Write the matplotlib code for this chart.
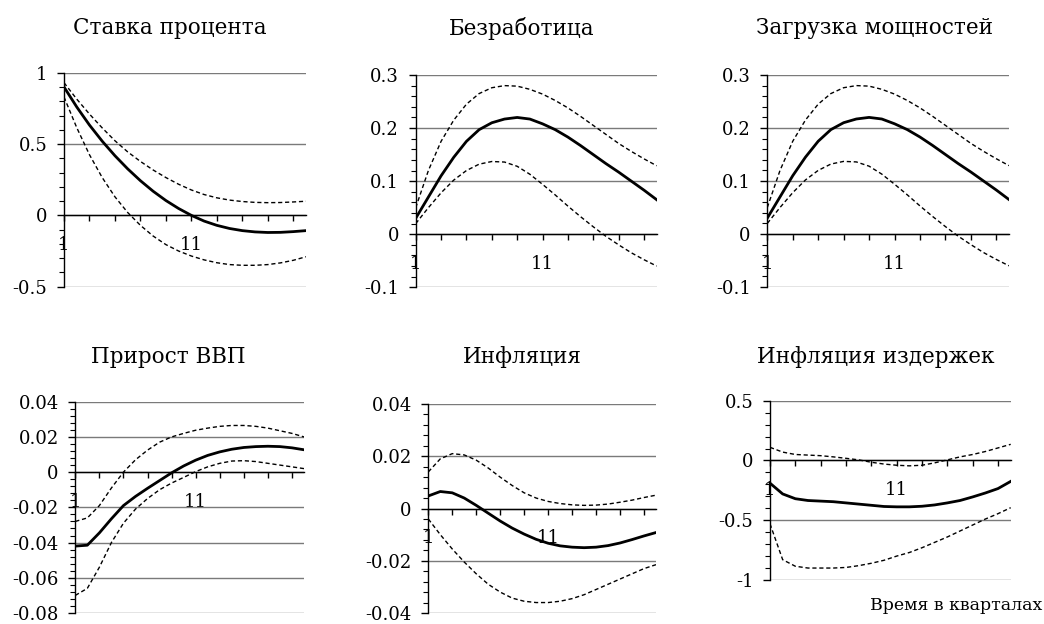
import numpy as np
import matplotlib
matplotlib.use('Agg')
import matplotlib.pyplot as plt
from matplotlib.ticker import MultipleLocator, FuncFormatter

plt.rcParams['font.family'] = ['DejaVu Serif']
plt.rcParams['axes.unicode_minus'] = False

# кварталы
quarters = np.arange(1, 21)

# Ставка процента
rate_mid = [0.90, 0.76, 0.633, 0.52, 0.418, 0.326, 0.243, 0.169, 0.104, 0.048,
            0.0, -0.04, -0.07, -0.092, -0.107, -0.116, -0.12, -0.119, -0.114, -0.107]
rate_hi = [0.93, 0.815, 0.71, 0.613, 0.523, 0.445, 0.378, 0.318, 0.265, 0.218,
           0.178, 0.146, 0.123, 0.107, 0.097, 0.091, 0.089, 0.09, 0.094, 0.099]
rate_lo = [0.83, 0.615, 0.425, 0.265, 0.13, 0.02, -0.07, -0.145, -0.205, -0.25,
           -0.285, -0.312, -0.332, -0.345, -0.35, -0.35, -0.345, -0.333, -0.315, -0.29]

# Безработица
unemp_mid = [0.03, 0.07, 0.11, 0.145, 0.175, 0.197, 0.21, 0.217, 0.22, 0.217,
             0.208, 0.197, 0.183, 0.167, 0.15, 0.133, 0.117, 0.10, 0.083, 0.065]
unemp_hi = [0.05, 0.12, 0.175, 0.215, 0.245, 0.265, 0.276, 0.28, 0.279, 0.273,
            0.264, 0.252, 0.238, 0.222, 0.205, 0.188, 0.171, 0.156, 0.142, 0.129]
unemp_lo = [0.02, 0.05, 0.078, 0.102, 0.12, 0.132, 0.137, 0.136, 0.128, 0.113,
            0.094, 0.074, 0.053, 0.033, 0.014, -0.004, -0.02, -0.035, -0.048, -0.06]

# Загрузка мощностей
cap_mid = [0.03, 0.07, 0.11, 0.145, 0.175, 0.197, 0.21, 0.217, 0.22, 0.217,
           0.208, 0.197, 0.183, 0.167, 0.15, 0.133, 0.117, 0.10, 0.083, 0.065]
cap_hi = [0.05, 0.12, 0.175, 0.215, 0.245, 0.265, 0.276, 0.28, 0.279, 0.273,
          0.264, 0.252, 0.238, 0.222, 0.205, 0.188, 0.171, 0.156, 0.142, 0.129]
cap_lo = [0.02, 0.05, 0.078, 0.102, 0.12, 0.132, 0.137, 0.136, 0.128, 0.113,
          0.094, 0.074, 0.053, 0.033, 0.014, -0.004, -0.02, -0.035, -0.048, -0.06]

# Прирост ВВП
gdp_mid = [-0.042, -0.0415, -0.0345, -0.0265, -0.019, -0.0138, -0.0092, -0.0048, -0.0004, 0.0035,
           0.0068, 0.0095, 0.0115, 0.013, 0.014, 0.0145, 0.0147, 0.0145, 0.0138, 0.0127]
gdp_hi = [-0.028, -0.026, -0.019, -0.009, 0.0, 0.007, 0.0125, 0.017, 0.020, 0.022,
          0.0238, 0.025, 0.026, 0.0265, 0.0265, 0.026, 0.025, 0.0235, 0.022, 0.020]
gdp_lo = [-0.07, -0.066, -0.054, -0.04, -0.029, -0.021, -0.015, -0.010, -0.0062, -0.003,
          0.0003, 0.003, 0.005, 0.0063, 0.0065, 0.006, 0.005, 0.004, 0.003, 0.002]

# Инфляция
infl_mid = [0.0048, 0.0065, 0.006, 0.004, 0.0012, -0.0018, -0.0048, -0.0075, -0.0098, -0.0118,
            -0.0133, -0.0143, -0.0148, -0.015, -0.0148, -0.0142, -0.0132, -0.0119, -0.0105, -0.0092]
infl_hi = [0.014, 0.019, 0.021, 0.0205, 0.0185, 0.0155, 0.012, 0.0088, 0.006, 0.004,
           0.0027, 0.0019, 0.0014, 0.0012, 0.0013, 0.0017, 0.0024, 0.0032, 0.0042, 0.0051]
infl_lo = [-0.004, -0.01, -0.0155, -0.0205, -0.025, -0.029, -0.032, -0.0343, -0.0355, -0.036,
           -0.036, -0.0355, -0.0345, -0.033, -0.031, -0.029, -0.027, -0.025, -0.023, -0.0215]

# Инфляция издержек
cost_mid = [-0.19, -0.28, -0.32, -0.335, -0.34, -0.345, -0.355, -0.365, -0.375, -0.385,
            -0.388, -0.388, -0.383, -0.372, -0.355, -0.335, -0.305, -0.272, -0.235, -0.175]
cost_hi = [0.11, 0.07, 0.05, 0.045, 0.04, 0.03, 0.018, 0.005, -0.015, -0.03,
           -0.04, -0.045, -0.04, -0.02, 0.005, 0.03, 0.05, 0.075, 0.105, 0.135]
cost_lo = [-0.53, -0.83, -0.885, -0.9, -0.9, -0.9, -0.895, -0.88, -0.86, -0.835,
           -0.8, -0.77, -0.73, -0.685, -0.64, -0.59, -0.54, -0.49, -0.445, -0.395]

W, H = 1044, 624

# (название, данные, ymin, ymax, шаг, мелкий шаг, рамка в пикселях, центр заголовка)
panels = [
    ('Ставка процента', (rate_mid, rate_hi, rate_lo), -0.5, 1.0, 0.5, 0.1,
     (64, 72.7, 306, 286.7), (170, 28)),
    ('Безработица', (unemp_mid, unemp_hi, unemp_lo), -0.1, 0.3, 0.1, 0.02,
     (415.7, 75, 656.7, 287.3), (522, 28)),
    ('Загрузка мощностей', (cap_mid, cap_hi, cap_lo), -0.1, 0.3, 0.1, 0.02,
     (767.3, 75, 1009, 287), (874, 28)),
    ('Прирост ВВП', (gdp_mid, gdp_hi, gdp_lo), -0.08, 0.04, 0.02, 0.004,
     (75.3, 401.7, 304, 613), (168, 357)),
    ('Инфляция', (infl_mid, infl_hi, infl_lo), -0.04, 0.04, 0.02, 0.004,
     (428.3, 404, 656, 613), (522, 357)),
    ('Инфляция издержек', (cost_mid, cost_hi, cost_lo), -1.0, 0.5, 0.5, 0.1,
     (770, 400.7, 1010.7, 580), (876, 357)),
]


def fmt(v, pos):
    if abs(v) < 1e-12:
        return '0'
    return f'{v:g}'


fig = plt.figure(figsize=(W / 100, H / 100), dpi=100)

for title, (mid, hi, lo), ymin, ymax, step, mstep, (l, t, r, b), (tx, ty) in panels:
    ax = fig.add_axes([l / W, 1 - b / H, (r - l) / W, (b - t) / H])
    ax.plot(quarters, hi, color='black', lw=1.0, dashes=(3, 2))
    ax.plot(quarters, lo, color='black', lw=1.0, dashes=(3, 2))
    ax.plot(quarters, mid, color='black', lw=2.0)
    ax.set_xlim(1, 20)
    ax.set_ylim(ymin, ymax)

    # сетка по основным делениям
    ax.yaxis.set_major_locator(MultipleLocator(step))
    ax.yaxis.set_minor_locator(MultipleLocator(mstep))
    ax.yaxis.set_major_formatter(FuncFormatter(fmt))
    ax.grid(axis='y', which='major', color='#7a7a7a', lw=1.0)
    ax.set_axisbelow(True)

    xt = np.arange(1, 20, 2)
    ax.set_xticks(xt)
    ax.set_xticklabels(['1' if v == 1 else '11' if v == 11 else '' for v in xt])

    ax.spines['top'].set_visible(False)
    ax.spines['right'].set_visible(False)
    ax.spines['bottom'].set_position(('data', 0))
    ax.spines['bottom'].set_zorder(3)
    ax.spines['left'].set_linewidth(1.0)
    ax.spines['bottom'].set_linewidth(1.0)

    ax.tick_params(axis='y', which='major', length=5, width=1, labelsize=13, pad=7)
    ax.tick_params(axis='y', which='minor', length=3.5, width=0.8)
    ax.tick_params(axis='x', length=4, width=1, labelsize=13, pad=11)

    fig.text(tx / W, 1 - ty / H, title, fontsize=15.5, ha='center', va='center')

fig.text(1042 / W, 1 - 605 / H, 'Время в кварталах', fontsize=12.5, ha='right', va='center')

fig.savefig('out.png', dpi=100)
